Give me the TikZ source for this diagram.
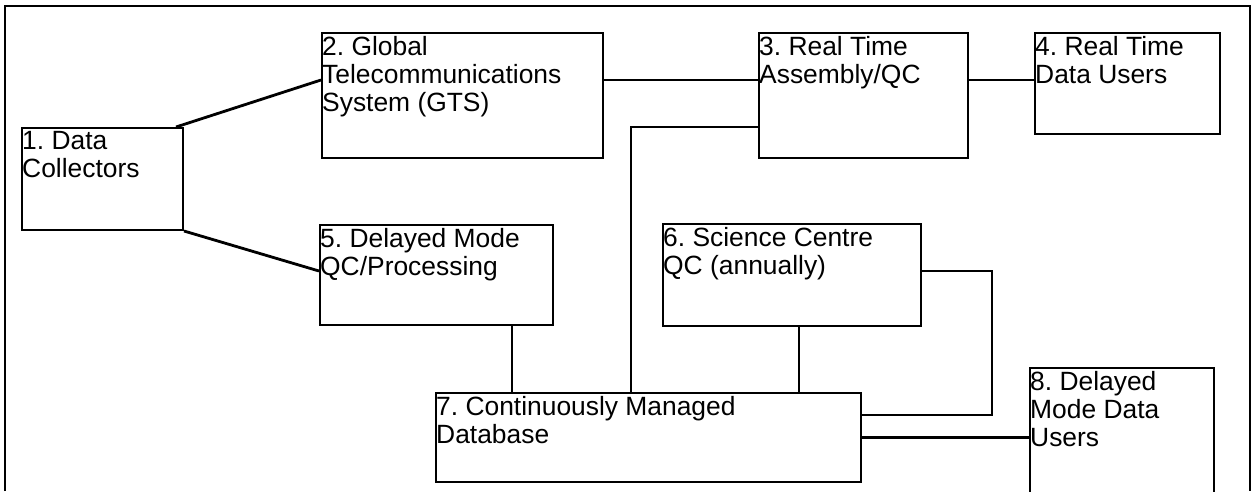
\documentclass[tikz,border=0pt]{standalone}
\usepackage{fontspec}
\setmainfont{Liberation Sans}
\frenchspacing
\begin{document}
\begin{tikzpicture}[x=1pt, y=-1pt]
  \tikzset{box/.style={draw, line width=2pt, anchor=north west, inner sep=0pt},
    lbl/.style={align=left, anchor=north west, inner sep=0pt, font=\fontsize{26.4}{28.3}\selectfont},
    link/.style={line width=2.8pt}}
  \clip (0,0) rectangle (1253,491);
  \draw[line width=1.8pt] (5,491) -- (5,6) -- (1250,6) -- (1250,491);
  % boxes
  \node[box, minimum width=161pt, minimum height=102pt] (collect) at (21,127) {};
  \node[box, minimum width=281pt, minimum height=125pt] (gts) at (321,32) {};
  \node[box, minimum width=209pt, minimum height=125pt] (rtqc) at (758,32) {};
  \node[box, minimum width=185pt, minimum height=101pt] (rtusers) at (1034,32) {};
  \node[box, minimum width=233pt, minimum height=100pt] (dmqc) at (319,224) {};
  \node[box, minimum width=258pt, minimum height=102pt] (science) at (662,223) {};
  \node[box, minimum width=425pt, minimum height=89pt] (db) at (435,392) {};
  \node[box, minimum width=184pt, minimum height=160pt] (dmusers) at (1029,367) {};
  % texts
  \node[lbl] (collect-t) at ([shift={(1pt,-4pt)}]collect.north west) {1. Data\\Collectors};
  \node[lbl] (gts-t) at ([shift={(1pt,-4pt)}]gts.north west) {2. Global\\Telecommunications\\System (GTS)};
  \node[lbl] (rtqc-t) at ([shift={(1pt,-4pt)}]rtqc.north west) {3. Real Time\\Assembly/QC};
  \node[lbl] (rtusers-t) at ([shift={(1pt,-4pt)}]rtusers.north west) {4. Real Time\\Data Users};
  \node[lbl] (dmqc-t) at ([shift={(1pt,-4pt)}]dmqc.north west) {5. Delayed Mode\\QC/Processing};
  \node[lbl] (science-t) at ([shift={(1pt,-4pt)}]science.north west) {6. Science Centre\\QC (annually)};
  \node[lbl] (db-t) at ([shift={(1pt,-4pt)}]db.north west) {7. Continuously Managed\\Database};
  \node[lbl] (dmusers-t) at ([shift={(1pt,-4pt)}]dmusers.north west) {8. Delayed\\Mode Data\\Users};
  % links
  \draw[link] ([xshift=-8pt]collect.north east) -- ([yshift=15.5pt]gts.west);
  \draw[link] (collect.south east) -- ([yshift=4pt]dmqc.west);
  \draw[link] ([yshift=15.5pt]gts.east) -- ([yshift=15.5pt]rtqc.west);
  \draw[link] ([yshift=15.5pt]rtqc.east) -- ([yshift=3.5pt]rtusers.west);
  \draw[link] ([yshift=-31.5pt]rtqc.west) -| ([xshift=-17.5pt]db.north);
  \draw[link] ([xshift=75.5pt]dmqc.south) -- ([xshift=75.5pt]dmqc.south |- db.north);
  \draw[link] ([xshift=7pt]science.south) -- ([xshift=7pt]science.south |- db.north);
  \draw[link] ([yshift=4pt]science.east) -- ++(70,0) |- ([yshift=22.5pt]db.east);
  \draw[link] (db.east) -- (db.east -| dmusers.west);
\end{tikzpicture}
\end{document}
